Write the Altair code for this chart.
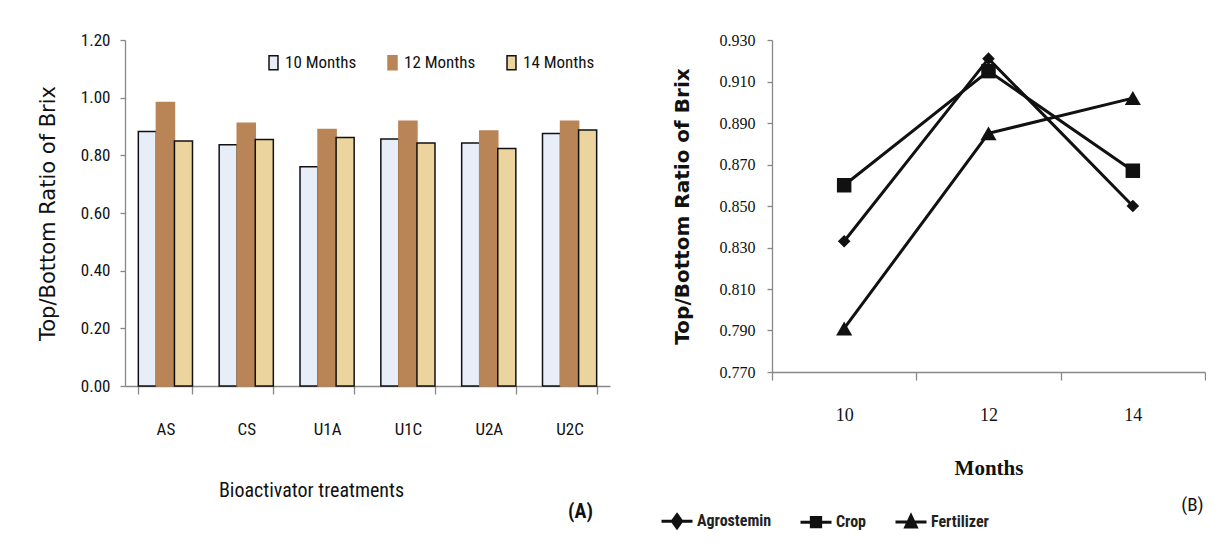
import altair as alt
import pandas as pd

# ---- Panel A data ----
treatments = ["AS", "CS", "U1A", "U1C", "U2A", "U2C"]
bar_series = ["10 Months", "12 Months", "14 Months"]
m10 = [0.883, 0.837, 0.760, 0.857, 0.843, 0.876]
m12 = [0.983, 0.911, 0.890, 0.918, 0.884, 0.918]
m14 = [0.850, 0.855, 0.862, 0.843, 0.824, 0.888]
y_ticks_a = [0.0, 0.2, 0.4, 0.6, 0.8, 1.0, 1.2]

# ---- Panel B data ----
months = ["10", "12", "14"]
line_series = ["Agrostemin", "Crop", "Fertilizer"]
agrostemin = [0.833, 0.921, 0.850]
crop = [0.860, 0.915, 0.867]
fertilizer = [0.791, 0.885, 0.902]
y_ticks_b = [0.770, 0.790, 0.810, 0.830, 0.850, 0.870, 0.890, 0.910, 0.930]

NARROW = "Roboto Condensed"
SERIF = "Liberation Serif"
WIDE = "DejaVu Sans"

rows_a = []
for i, t in enumerate(treatments):
    for s, vals in zip(bar_series, [m10, m12, m14]):
        rows_a.append({"treatment": t, "series": s, "value": vals[i]})
df_a = pd.DataFrame(rows_a)

rows_b = []
for s, vals in zip(line_series, [agrostemin, crop, fertilizer]):
    for m, v in zip(months, vals):
        rows_b.append({"month": m, "series": s, "value": v})
df_b = pd.DataFrame(rows_b)

bars = alt.Chart(df_a).mark_bar(strokeWidth=1.5).encode(
    x=alt.X("treatment:N", sort=treatments,
            scale=alt.Scale(paddingInner=0.33, paddingOuter=0.165),
            axis=alt.Axis(title="Bioactivator treatments", labelAngle=0,
                          tickBand="extent", tickSize=8, labelPadding=27,
                          labelFont=NARROW, labelFontSize=17, labelColor="#111",
                          titleFont=NARROW, titleFontSize=20, titleFontWeight="normal",
                          titleColor="#111", titleX=186, titleY=104,
                          titleBaseline="middle", titleAlign="center")),
    xOffset=alt.XOffset("series:N", sort=bar_series),
    y=alt.Y("value:Q",
            scale=alt.Scale(domain=[0, 1.2], nice=False),
            axis=alt.Axis(title="Top/Bottom Ratio of Brix", values=y_ticks_a,
                          format=".2f", tickSize=5, labelPadding=10, grid=False,
                          labelFont=NARROW, labelFontSize=17, labelColor="#111",
                          titleFont=WIDE, titleFontSize=21, titleFontWeight="normal",
                          titleColor="#111", titlePadding=22)),
    fill=alt.Fill("series:N", sort=bar_series,
                  scale=alt.Scale(domain=bar_series,
                                  range=["#e8eef8", "#b98456", "#ecd49f"]),
                  legend=alt.Legend(title=None, orient="none", direction="horizontal",
                                    legendX=140, legendY=14,
                                    symbolType="M-0.64,-1H0.64V1H-0.64Z",
                                    symbolSize=196, symbolStrokeWidth=1.5,
                                    labelFont=NARROW, labelFontSize=17,
                                    labelColor="#111", labelOffset=3,
                                    columnPadding=27)),
    stroke=alt.Stroke("series:N", sort=bar_series,
                      scale=alt.Scale(domain=bar_series,
                                      range=["#111111", "#b98456", "#111111"])),
).properties(
    width=485, height=346,
    title=alt.Title("(A)", orient="bottom", anchor="end", font=NARROW,
                    fontSize=20, fontWeight="bold", color="#111", offset=2, dx=-17)
)

xb = alt.X("month:N", sort=months, bandPosition=0.5,
           scale=alt.Scale(type="band", paddingInner=0, paddingOuter=0),
           axis=alt.Axis(title="Months", labelAngle=0, tickBand="extent",
                         tickSize=8, labelPadding=26,
                         labelFont=SERIF, labelFontSize=18, labelColor="#111",
                         titleFont=SERIF, titleFontSize=21, titleFontWeight="bold",
                         titleColor="#111", titleY=96, titleBaseline="middle"))
yb = alt.Y("value:Q",
           scale=alt.Scale(domain=[0.77, 0.93], nice=False, zero=False),
           axis=alt.Axis(title="Top/Bottom Ratio of Brix", values=y_ticks_b,
                         format=".3f", tickSize=5, labelPadding=12, grid=False,
                         labelFont=SERIF, labelFontSize=16, labelColor="#111",
                         titleFont=WIDE, titleFontSize=20, titleFontWeight="bold",
                         titleColor="#111", titlePadding=27))

base_b = alt.Chart(df_b)
lines = base_b.mark_line(color="#111", strokeWidth=3).encode(
    x=xb, y=yb, detail="series:N")
points = base_b.mark_point(filled=True, color="#111", opacity=1).encode(
    x=xb, y=yb,
    shape=alt.Shape("series:N", scale=alt.Scale(
        domain=line_series, range=["diamond", "square", "triangle-up"]), legend=None),
    size=alt.Size("series:N", scale=alt.Scale(
        domain=line_series, range=[160, 260, 240]), legend=None),
)
legend_paths = [
    "M-1,0H1M0,-0.42L0.3,0L0,0.42L-0.3,0ZM0,-0.28L0.2,0L0,0.28L-0.2,0ZM0,-0.14L0.1,0L0,0.14L-0.1,0Z",
    "M-1,0H1M-0.3,-0.3H0.3V0.3H-0.3ZM-0.2,-0.2H0.2V0.2H-0.2ZM-0.1,-0.1H0.1V0.1H-0.1Z",
    "M-1,0H1M-0.34,0.32L0.34,0.32L0,-0.4ZM-0.224,0.238L0.224,0.238L0,-0.237ZM-0.112,0.159L0.112,0.159L0,-0.079Z",
]
legend_layer = base_b.mark_point(filled=False, color="#111", opacity=1,
                                 strokeWidth=3).encode(
    x=xb, y=yb,
    shape=alt.Shape("series:N", scale=alt.Scale(domain=line_series, range=legend_paths),
                    legend=alt.Legend(title=None, orient="none", direction="horizontal",
                                      legendX=-112, legendY=464, symbolSize=961,
                                      symbolStrokeWidth=3, symbolFillColor="#111",
                                      symbolStrokeColor="#111",
                                      labelFont=NARROW, labelFontSize=16,
                                      labelFontWeight="bold", labelColor="#222",
                                      labelOffset=3, columnPadding=22)),
).transform_filter("false")

panel_b = alt.layer(lines, points, legend_layer).resolve_scale(
    shape="independent", size="independent"
).properties(
    width=433, height=332,
    title=alt.Title("(B)", orient="bottom", anchor="end", font=NARROW,
                    fontSize=19, fontWeight="normal", color="#111", offset=-38, dx=-2)
)

chart = alt.hconcat(bars, panel_b, spacing=50).properties(
    padding={"left": 29, "top": 23, "right": 0, "bottom": 0}
).configure_view(stroke=None).configure_axis(
    domainColor="#888", tickColor="#888", domainWidth=1.3, tickWidth=1.3
).configure_concat(spacing=50)

chart.save("out.html", embed_options={"renderer": "svg", "actions": False})
